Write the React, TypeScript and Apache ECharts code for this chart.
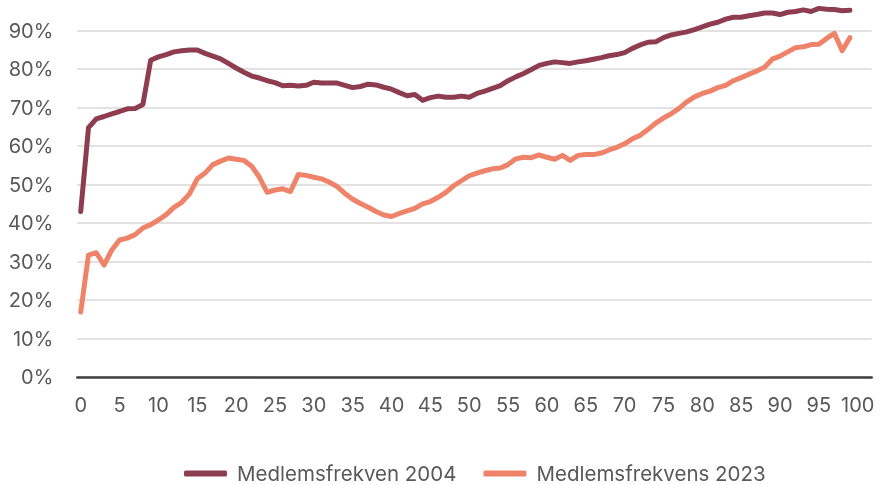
import React, { useEffect, useRef } from "react";
import * as echarts from "echarts";

const ages: number[] = Array.from({ length: 100 }, (_, i) => i);
const xTickValues = [0, 5, 10, 15, 20, 25, 30, 35, 40, 45, 50, 55, 60, 65, 70, 75, 80, 85, 90, 95, 100];
const seriesNames = ["Medlemsfrekven 2004", "Medlemsfrekvens 2023"];

const freq2004 = [
  43.0, 64.8, 67.1, 67.7, 68.4, 69.0, 69.7, 69.8, 70.8, 82.3,
  83.2, 83.8, 84.5, 84.8, 85.0, 85.0, 84.1, 83.4, 82.7, 81.5,
  80.3, 79.2, 78.2, 77.7, 77.0, 76.5, 75.7, 75.8, 75.6, 75.8,
  76.6, 76.4, 76.4, 76.4, 75.8, 75.2, 75.5, 76.1, 75.9, 75.3,
  74.8, 73.9, 73.1, 73.4, 71.9, 72.6, 73.0, 72.7, 72.7, 73.0,
  72.7, 73.7, 74.3, 75.0, 75.7, 77.0, 78.0, 78.9, 79.9, 81.0,
  81.5, 81.9, 81.7, 81.5, 81.9, 82.2, 82.6, 83.0, 83.5, 83.8,
  84.3, 85.4, 86.3, 87.0, 87.1, 88.2, 88.9, 89.3, 89.7, 90.3,
  91.0, 91.7, 92.2, 93.0, 93.5, 93.5, 93.9, 94.2, 94.6, 94.6,
  94.2, 94.8, 95.0, 95.4, 95.0, 95.8, 95.6, 95.5, 95.2, 95.3,
];

const freq2023 = [
  16.9, 31.7, 32.3, 29.1, 33.0, 35.6, 36.1, 37.0, 38.7, 39.6,
  40.8, 42.2, 44.1, 45.4, 47.6, 51.5, 53.0, 55.2, 56.1, 56.9,
  56.6, 56.3, 54.8, 51.9, 48.0, 48.6, 48.9, 48.2, 52.6, 52.4,
  51.9, 51.5, 50.6, 49.5, 47.7, 46.2, 45.1, 44.1, 43.0, 42.1,
  41.7, 42.5, 43.2, 43.8, 45.0, 45.6, 46.7, 48.0, 49.7, 51.0,
  52.3, 53.0, 53.6, 54.1, 54.3, 55.2, 56.7, 57.1, 57.0, 57.7,
  57.1, 56.6, 57.6, 56.3, 57.6, 57.8, 57.8, 58.2, 59.0, 59.7,
  60.6, 61.9, 62.8, 64.3, 66.0, 67.3, 68.4, 69.8, 71.5, 72.8,
  73.7, 74.3, 75.2, 75.8, 77.0, 77.8, 78.7, 79.5, 80.5, 82.6,
  83.4, 84.5, 85.6, 85.8, 86.4, 86.5, 88.0, 89.3, 84.8, 88.2,
];

const FONT = "Inter";
const TEXT_COLOR = "#595959";

export default function App() {
  const ref = useRef<HTMLDivElement>(null);
  useEffect(() => {
    const chart = echarts.init(ref.current!, null, { renderer: "svg" });
    chart.setOption({
      animation: false,
      textStyle: { fontFamily: FONT },
      grid: { left: 77.3, right: 9.3, top: 30.7, bottom: 108, containLabel: false },
      xAxis: {
        type: "value",
        min: -0.44,
        max: 101.8,
        axisLine: { show: true, lineStyle: { color: "#404040", width: 2.5 } },
        axisTick: { show: false },
        splitLine: { show: false },
        axisLabel: {
          customValues: xTickValues,
          color: TEXT_COLOR,
          fontSize: 20,
          fontFamily: FONT,
          margin: 18,
        },
      },
      yAxis: {
        type: "value",
        min: 0,
        max: 90,
        interval: 10,
        axisLine: { show: false },
        axisTick: { show: false },
        splitLine: { show: true, lineStyle: { color: "#D9D9D9", width: 1.5 } },
        axisLabel: {
          formatter: "{value}%",
          color: TEXT_COLOR,
          fontSize: 20,
          fontFamily: FONT,
          margin: 24,
        },
      },
      legend: {
        left: 184,
        top: 463,
        padding: 0,
        icon: "roundRect",
        itemWidth: 43,
        itemHeight: 6,
        itemGap: 27,
        textStyle: {
          color: TEXT_COLOR,
          fontSize: 20.5,
          lineHeight: 20,
          fontFamily: FONT,
          padding: [0, 0, 0, 5],
        },
        data: seriesNames,
      },
      series: [
        {
          name: seriesNames[0],
          type: "line",
          data: ages.map((a, i) => [a, freq2004[i]]),
          showSymbol: false,
          clip: false,
          lineStyle: { color: "#8E3C4F", width: 5, join: "round", cap: "round" },
          itemStyle: { color: "#8E3C4F" },
        },
        {
          name: seriesNames[1],
          type: "line",
          data: ages.map((a, i) => [a, freq2023[i]]),
          showSymbol: false,
          clip: false,
          lineStyle: { color: "#EE836A", width: 5, join: "round", cap: "round" },
          itemStyle: { color: "#EE836A" },
        },
      ],
    });
    return () => chart.dispose();
  }, []);
  return <div ref={ref} style={{ position: "fixed", left: 0, top: 0, width: 881, height: 485 }} />;
}
